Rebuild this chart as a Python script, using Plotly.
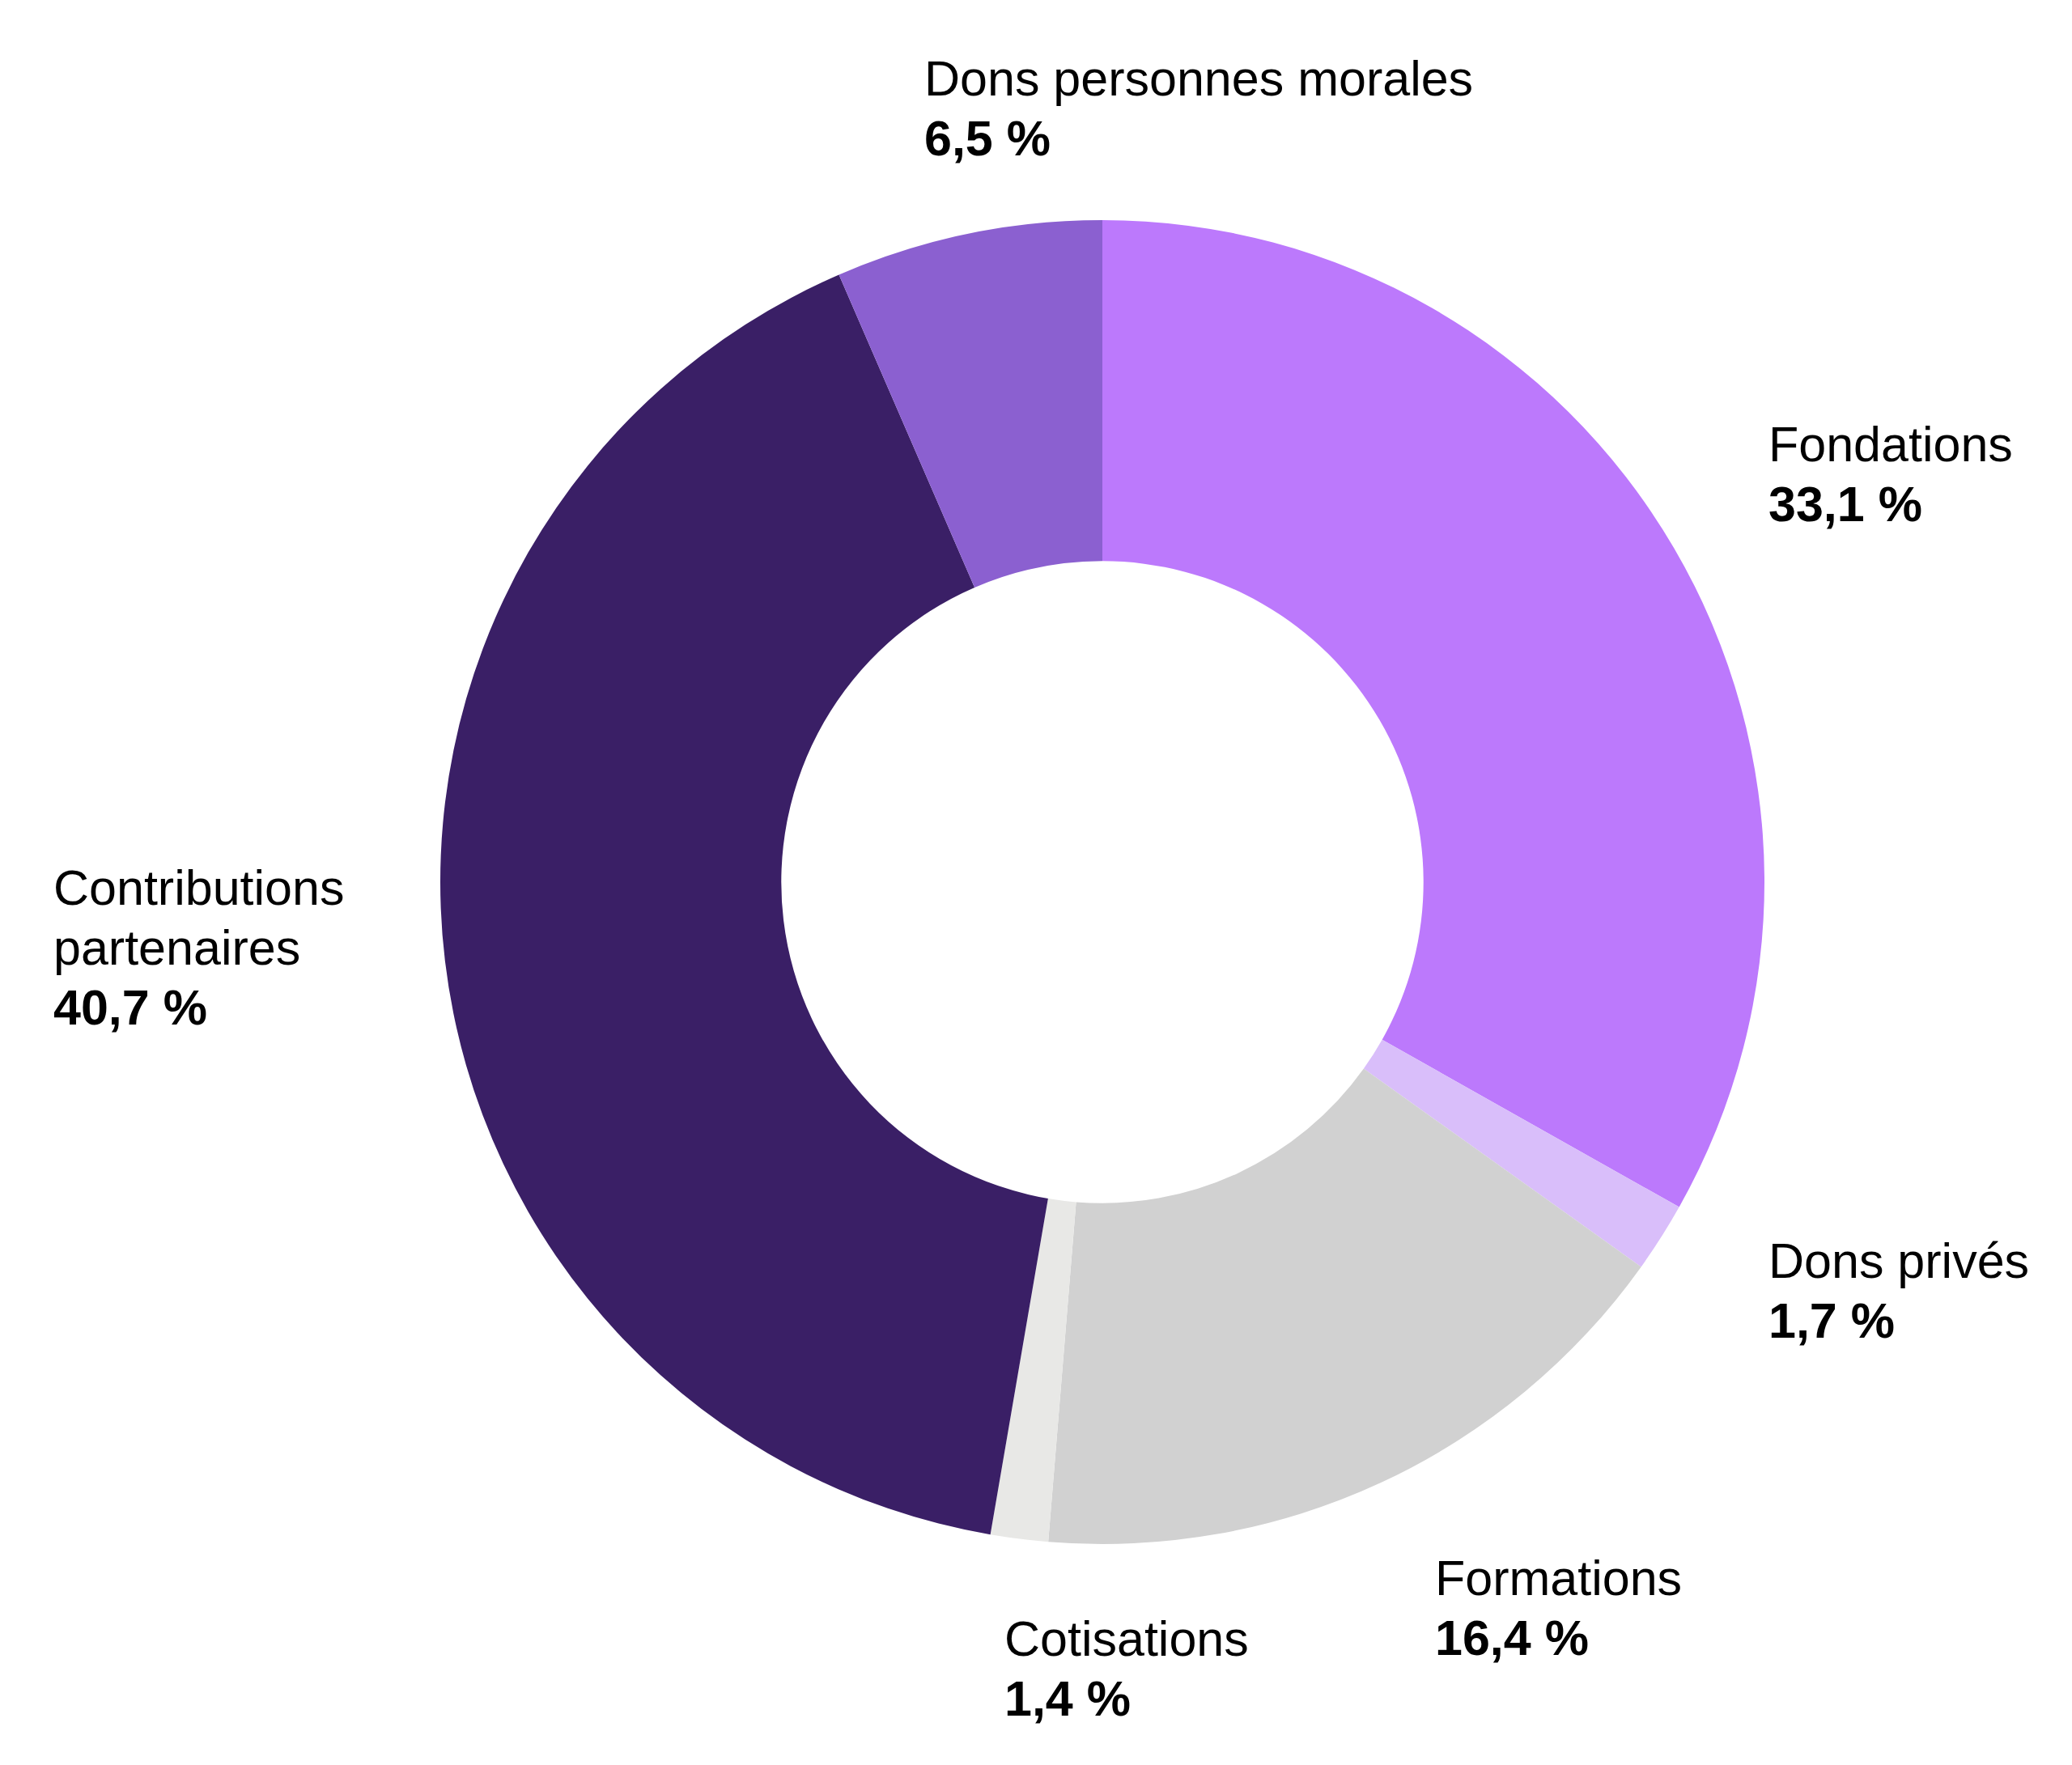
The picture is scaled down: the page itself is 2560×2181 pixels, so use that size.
import plotly.graph_objects as go

categories = ["Fondations", "Dons privés", "Formations", "Cotisations",
              "Contributions partenaires", "Dons personnes morales"]
values = [33.1, 1.7, 16.4, 1.4, 40.7, 6.5]
value_labels = ["33,1 %", "1,7 %", "16,4 %", "1,4 %", "40,7 %", "6,5 %"]
name_lines = [["Fondations"], ["Dons privés"], ["Formations"], ["Cotisations"],
              ["Contributions", "partenaires"], ["Dons personnes morales"]]
colors = ["#BC79FC", "#D9BEFA", "#D1D1D1", "#E8E8E6", "#3A1F66", "#8B60D0"]

W, H = 2560, 2181
FS = 61
LH = 74
FONT = "Liberation Sans, Arial, Helvetica, sans-serif"

# label anchors: left x and baseline of first line (pixels from top)
label_pos = [(2183, 570), (2183, 1579), (1771, 1971), (1239, 2046), (64, 1118), (1140, 118)]

cx, cy, r = 1362, 1090, 818

fig = go.Figure(go.Pie(
    labels=categories, values=values, sort=False, direction="clockwise",
    rotation=0, hole=0.485, textinfo="none", hoverinfo="label+percent",
    marker=dict(colors=colors, line=dict(width=0)),
    domain=dict(x=[(cx - r) / W, (cx + r) / W], y=[(H - cy - r) / H, (H - cy + r) / H]),
))

annotations = []
for i, (x, base) in enumerate(label_pos):
    lines = [(t, False) for t in name_lines[i]] + [(value_labels[i], True)]
    for k, (t, bold) in enumerate(lines):
        b = base + k * LH
        ymid = b - 0.35 * FS
        annotations.append(dict(
            x=x / W, y=1 - ymid / H, xref="paper", yref="paper",
            xanchor="left", yanchor="middle", showarrow=False,
            text=f"<b>{t}</b>" if bold else t,
            font=dict(family=FONT, size=FS, color="#000000"),
        ))

fig.update_layout(
    width=W, height=H, margin=dict(l=0, r=0, t=0, b=0),
    paper_bgcolor="white", plot_bgcolor="white", showlegend=False,
    annotations=annotations,
)

fig.write_html("out.html", config={"displayModeBar": False},
               post_script="document.body.style.margin='0';document.body.style.overflow='hidden';")
